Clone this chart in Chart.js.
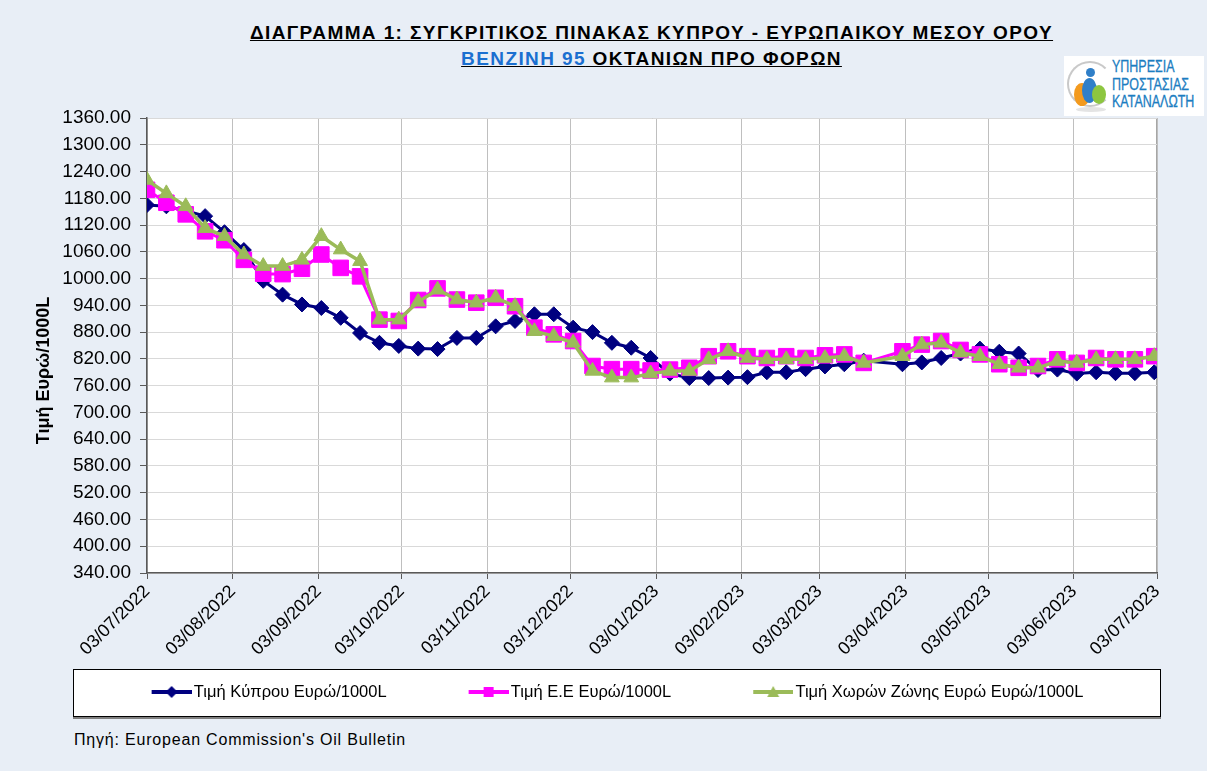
<!DOCTYPE html>
<html>
<head>
<meta charset="utf-8">
<script src="https://cdn.jsdelivr.net/npm/chart.js@4.4.0/dist/chart.umd.min.js"></script>
<style>
  html, body { margin: 0; padding: 0; }
  body { width: 1207px; height: 771px; background: #e8eef6; position: relative; overflow: hidden; font-family: Arial, "Liberation Sans", sans-serif; }
  #title { position: absolute; left: 0; top: 20px; width: 1303px; text-align: center; font-weight: bold; font-size: 19px; line-height: 26px; letter-spacing: 1.4px; text-decoration: underline; color: #000; white-space: nowrap; }
  #title .blue { color: #1a6fd0; }
  #legendBox { position: absolute; left: 73px; top: 669px; width: 1086px; height: 46px; background: #fff; border: 1px solid #000; box-shadow: 0 2px 0 #7f7f7f; }
  #source { position: absolute; left: 74px; top: 731px; font-size: 16px; letter-spacing: 0.8px; color: #000; white-space: nowrap; }
  #logo { position: absolute; left: 1064px; top: 56px; width: 140px; height: 60px; background: #fff; }
  #logo .arc { position: absolute; left: 3px; top: 5px; width: 42px; height: 42px; border-radius: 50%; border: 2px solid #c9c9c9; border-right-color: transparent; }
  #logo .b { position: absolute; border-radius: 50%; }
  #logo .txt { position: absolute; left: 48px; top: 2px; font-size: 16px; line-height: 17.5px; color: #1b7dc1; transform: scaleX(0.78); transform-origin: left top; white-space: nowrap; -webkit-text-stroke: 0.3px #1b7dc1; }
  canvas { position: absolute; left: 0; top: 0; }
</style>
</head>
<body>
<div id="title">ΔΙΑΓΡΑΜΜΑ 1: ΣΥΓΚΡΙΤΙΚΟΣ ΠΙΝΑΚΑΣ ΚΥΠΡΟΥ - ΕΥΡΩΠΑΙΚΟΥ ΜΕΣΟΥ ΟΡΟΥ<br><span class="blue">ΒΕΝΖΙΝΗ 95</span> ΟΚΤΑΝΙΩΝ ΠΡΟ ΦΟΡΩΝ</div>
<div id="logo">
  <div class="arc"></div>
  <div class="b" style="left:22px;top:12px;width:9px;height:9px;background:#2f7fc8"></div>
  <div class="b" style="left:10px;top:27px;width:16px;height:23px;background:#f39a1e"></div>
  <div class="b" style="left:18px;top:22px;width:15px;height:25px;background:#2f7fc8"></div>
  <div class="b" style="left:28px;top:29px;width:14px;height:19px;background:#8dc640"></div>
  <div class="b" style="left:12px;top:51px;width:30px;height:5px;background:#e4e4e4"></div>
  <div class="txt">ΥΠΗΡΕΣΙΑ<br>ΠΡΟΣΤΑΣΙΑΣ<br>ΚΑΤΑΝΑΛΩΤΗ</div>
</div>
<div id="legendBox"></div>
<div id="source">Πηγή: European Commission's Oil Bulletin</div>
<canvas id="chart" width="1207" height="771"></canvas>
<script>
// --- DATA ---
const dates = ['03/07/2022','10/07/2022','17/07/2022','24/07/2022','31/07/2022','07/08/2022','14/08/2022','21/08/2022','28/08/2022',
  '04/09/2022','11/09/2022','18/09/2022','25/09/2022','02/10/2022','09/10/2022','16/10/2022','23/10/2022','30/10/2022',
  '06/11/2022','13/11/2022','20/11/2022','27/11/2022','04/12/2022','11/12/2022','18/12/2022','25/12/2022',
  '01/01/2023','08/01/2023','15/01/2023','22/01/2023','29/01/2023','05/02/2023','12/02/2023','19/02/2023','26/02/2023',
  '05/03/2023','12/03/2023','19/03/2023','02/04/2023','09/04/2023','16/04/2023','23/04/2023','30/04/2023',
  '07/05/2023','14/05/2023','21/05/2023','28/05/2023','04/06/2023','11/06/2023','18/06/2023','25/06/2023','02/07/2023'];

const cyprus = [1165,1162,1152,1140,1104,1064,995,964,942,934,912,878,856,849,843,842,867,867,893,905,920,920,890,880,856,845,
  822,787,777,777,778,779,790,790,797,803,808,816,808,812,822,832,843,836,832,795,796,787,790,788,788,790];
const eu = [1199,1170,1144,1106,1086,1042,1011,1010,1022,1054,1024,1005,908,905,952,978,953,946,957,938,890,875,860,804,797,797,
  794,796,800,826,837,826,822,826,822,828,830,811,837,852,860,840,830,808,800,804,819,811,822,819,819,826];
const eurozone = [1221,1191,1162,1113,1095,1054,1028,1028,1042,1095,1065,1039,908,908,948,975,953,946,957,938,882,871,856,793,778,778,
  787,793,793,819,837,822,819,819,819,822,826,811,826,852,856,834,826,808,800,800,815,811,819,819,819,826];

const seriesNames = ['Τιμή Κύπρου Ευρώ/1000L', 'Τιμή Ε.Ε Ευρώ/1000L', 'Τιμή Χωρών Ζώνης Ευρώ Ευρώ/1000L'];
const monthTicks = ['03/07/2022','03/08/2022','03/09/2022','03/10/2022','03/11/2022','03/12/2022','03/01/2023',
  '03/02/2023','03/03/2023','03/04/2023','03/05/2023','03/06/2023','03/07/2023'];
const yMin = 340, yMax = 1360, yStep = 60;

// --- HELPERS ---
// day number counted from the first axis date
function dayOf(s) {
  const [d, m, y] = s.split('/').map(Number);
  const [d0, m0, y0] = monthTicks[0].split('/').map(Number);
  return (Date.UTC(y, m - 1, d) - Date.UTC(y0, m0 - 1, d0)) / 86400000;
}
const toPoints = vals => vals.map((v, i) => ({ x: dayOf(dates[i]), y: v }));

// legend symbol: short line with the series marker
function legendIcon(color, shape) {
  const c = document.createElement('canvas');
  c.width = 44; c.height = 14;
  const g = c.getContext('2d');
  g.strokeStyle = color; g.fillStyle = color; g.lineWidth = 4;
  g.beginPath(); g.moveTo(4, 7); g.lineTo(44, 7); g.stroke();
  g.beginPath();
  if (shape === 'diamond') { g.moveTo(24, 1); g.lineTo(30, 7); g.lineTo(24, 13); g.lineTo(18, 7); }
  else if (shape === 'square') { g.rect(19, 2, 10, 10); }
  else { g.moveTo(24, 1); g.lineTo(30, 12); g.lineTo(18, 12); }
  g.closePath(); g.fill();
  return c;
}
const icons = [legendIcon('#000080', 'diamond'), legendIcon('#ff00ff', 'square'), legendIcon('#9bbb59', 'triangle')];

const legendPad = 84, legendFont = 16.5;

// white plot area, legend moved into the boxed legend
const plotBg = {
  id: 'plotBg',
  afterLayout(chart) {
    const L = chart.legend;
    L.top = 692 - legendPad - legendFont / 2;
    L.bottom = 714;
    L.height = L.bottom - L.top;
    L.left += 30;
    L.right += 30;
  },
  beforeDraw(chart) {
    const { ctx, chartArea: a } = chart;
    ctx.save();
    ctx.fillStyle = '#ffffff';
    ctx.fillRect(a.left, a.top, a.width, a.height);
    ctx.strokeStyle = '#a6a6a6';
    ctx.strokeRect(a.left + 0.5, a.top + 0.5, a.width - 1, a.height - 1);
    ctx.restore();
  }
};

Chart.defaults.font.family = 'Arial, "Liberation Sans", sans-serif';
Chart.defaults.color = '#000';

new Chart(document.getElementById('chart'), {
  type: 'line',
  data: {
    datasets: [
      { label: seriesNames[0], data: toPoints(cyprus), borderColor: '#000080', backgroundColor: '#000080',
        borderWidth: 3, pointStyle: 'rectRot', pointRadius: 7.5, pointBorderWidth: 1, order: 3 },
      { label: seriesNames[1], data: toPoints(eu), borderColor: '#ff00ff', backgroundColor: '#ff00ff',
        borderWidth: 3, pointStyle: 'rect', pointRadius: 11, pointBorderWidth: 1, order: 2 },
      { label: seriesNames[2], data: toPoints(eurozone), borderColor: '#9bbb59', backgroundColor: '#9bbb59',
        borderWidth: 3.5, pointStyle: 'triangle', pointRadius: 8.5, pointBorderWidth: 1, order: 1 }
    ]
  },
  options: {
    responsive: false,
    animation: false,
    layout: { padding: { left: 20, right: 50, top: 118, bottom: 62 } },
    plugins: {
      tooltip: { enabled: false },
      legend: {
        position: 'bottom',
        maxHeight: 40,
        labels: {
          usePointStyle: true,
          pointStyleWidth: 32,
          padding: legendPad,
          font: { size: legendFont },
          sort: (a, b) => a.datasetIndex - b.datasetIndex,
          generateLabels(chart) {
            const items = Chart.defaults.plugins.legend.labels.generateLabels(chart);
            items.forEach(it => { it.pointStyle = icons[it.datasetIndex]; });
            return items;
          }
        }
      }
    },
    scales: {
      x: {
        type: 'linear',
        min: dayOf(monthTicks[0]),
        max: dayOf(monthTicks[monthTicks.length - 1]),
        afterBuildTicks(scale) {
          scale.ticks = monthTicks.map(t => ({ value: dayOf(t) }));
        },
        afterFit(scale) { scale.height = 96; },
        ticks: {
          autoSkip: false,
          minRotation: 45,
          maxRotation: 45,
          padding: 2,
          font: { size: 18 },
          callback: v => monthTicks.find(t => dayOf(t) === v) || ''
        },
        grid: { color: '#bfbfbf', tickColor: '#595959', tickLength: 6 },
        border: { color: '#595959', width: 1.5 }
      },
      y: {
        min: yMin,
        max: yMax,
        afterFit(scale) { scale.width = 127; },
        ticks: { stepSize: yStep, padding: 9, font: { size: 19 }, callback: v => v.toFixed(2) },
        grid: { color: '#d9d9d9', tickColor: '#595959', tickLength: 7 },
        border: { color: '#595959', width: 1.5 },
        title: {
          display: true,
          text: 'Τιμή Ευρώ/1000L' + '\u00a0'.repeat(10),
          font: { size: 18, weight: 'bold' },
          padding: { top: 13, bottom: 0 }
        }
      }
    }
  },
  plugins: [plotBg]
});
</script>
</body>
</html>
